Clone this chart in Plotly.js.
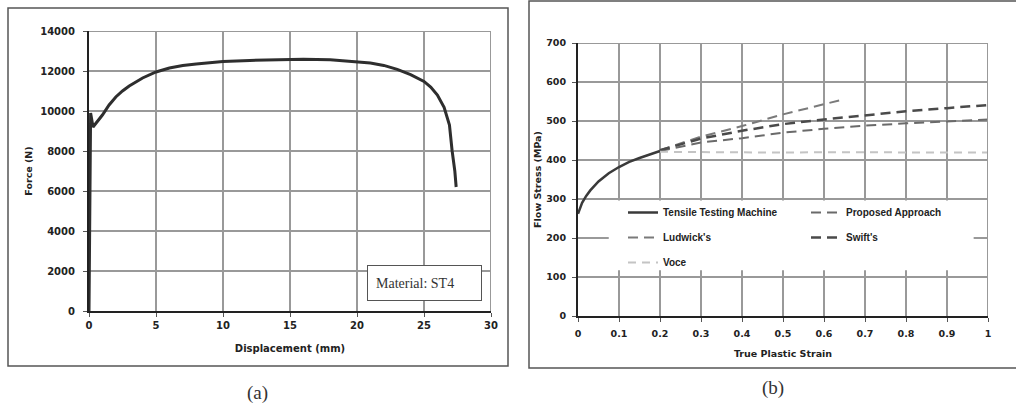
<!DOCTYPE html>
<html>
<head>
<meta charset="utf-8">
<script src="https://cdn.plot.ly/plotly-3.0.1.min.js"></script>
<style>html,body{margin:0;padding:0;background:#fff;}#chart{width:1016px;height:409px;}</style>
</head>
<body>
<div id="chart"></div>
<script>
// ---- Panel (a): force-displacement ----
const dispMm = [0, 0.1, 0.12, 0.3, 0.6, 1, 1.5, 2, 2.5, 3, 4, 5, 6, 7, 8, 9, 10, 12, 14, 16, 18, 20, 21, 22, 23, 24, 25, 25.5, 26, 26.5, 26.9, 27.1, 27.3, 27.4];
const forceN = [0, 9900, 9900, 9200, 9450, 9800, 10300, 10700, 11000, 11250, 11650, 11950, 12150, 12270, 12350, 12420, 12470, 12530, 12570, 12590, 12560, 12470, 12400, 12280, 12080, 11820, 11480, 11200, 10800, 10180, 9300, 8000, 7000, 6200];

// ---- Panel (b): flow stress vs true plastic strain ----
const tensileStrain = [0, 0.005, 0.01, 0.02, 0.03, 0.05, 0.075, 0.1, 0.125, 0.15, 0.175, 0.2];
const tensileStress = [262, 278, 290, 308, 322, 345, 366, 382, 395, 405, 414, 423];
const modelStrain = [0.2, 0.3, 0.4, 0.5, 0.6, 0.7, 0.8, 0.9, 1.0];
const proposedStress = [423, 445, 456, 470, 480, 488, 494, 499, 504];
const ludwickStrain = [0.2, 0.3, 0.4, 0.5, 0.6, 0.65];
const ludwickStress = [425, 460, 487, 517, 543, 556];
const swiftStress = [425, 455, 475, 492, 504, 515, 525, 533, 541];
const voceStress = [421, 420, 419, 419, 420, 420, 419, 419, 419];

const legendNames = ["Tensile Testing Machine", "Proposed Approach", "Ludwick's", "Swift's", "Voce"];

const W = 1016, H = 409;
const px = v => v / W;
const py = v => 1 - v / H;

const tickFont = {family: "DejaVu Sans, Arial, sans-serif", size: 10, color: "#222", weight: "bold"};
const tickFontB = {family: "DejaVu Sans, Arial, sans-serif", size: 9.5, color: "#222", weight: "bold"};
const gridCol = "#999999";
const legFont = {family: "Liberation Sans Narrow, Liberation Sans, Arial, sans-serif", size: 10, color: "#222", weight: "bold"};

const traces = [
  {x: dispMm, y: forceN, xaxis: "x", yaxis: "y", mode: "lines", showlegend: false,
   line: {color: "#2e2e2e", width: 3}},
  {x: tensileStrain, y: tensileStress, xaxis: "x2", yaxis: "y2", mode: "lines", name: legendNames[0],
   legend: "legend", legendgroup: "g1", line: {color: "#3a3a3a", width: 2.5}},
  {x: modelStrain, y: proposedStress, xaxis: "x2", yaxis: "y2", mode: "lines", name: legendNames[1],
   legend: "legend2", legendgroup: "g2", line: {color: "#6a6a6a", width: 2, dash: "10px,6px"}},
  {x: ludwickStrain, y: ludwickStress, xaxis: "x2", yaxis: "y2", mode: "lines", name: legendNames[2],
   legend: "legend", legendgroup: "g3", line: {color: "#7a7a7a", width: 2, dash: "10px,6px"}},
  {x: modelStrain, y: swiftStress, xaxis: "x2", yaxis: "y2", mode: "lines", name: legendNames[3],
   legend: "legend2", legendgroup: "g4", line: {color: "#4a4a4a", width: 2.5, dash: "10px,6px"}},
  {x: modelStrain, y: voceStress, xaxis: "x2", yaxis: "y2", mode: "lines", name: legendNames[4],
   legend: "legend", legendgroup: "g5", line: {color: "#c4c4c4", width: 2, dash: "8px,6px"}}
];

const axBase = {
  showgrid: true, gridcolor: gridCol, gridwidth: 2, zeroline: false,
  showline: true, linecolor: "#222", linewidth: 2,
  ticks: "outside", ticklen: 4, tickcolor: "#555", tickwidth: 1,
  fixedrange: true
};

const layout = {
  width: W, height: H,
  margin: {l: 0, r: 0, t: 0, b: 0},
  paper_bgcolor: "#fff", plot_bgcolor: "#fff",
  showlegend: true,
  xaxis: Object.assign({}, axBase, {
    domain: [px(89), px(491)], range: [0, 30], dtick: 5, anchor: "y",
    tickfont: tickFont,
    title: {text: "Displacement (mm)", font: {family: "DejaVu Sans, Arial, sans-serif", size: 10, color: "#222", weight: "bold"}}
  }),
  yaxis: Object.assign({}, axBase, {
    domain: [py(311), py(31)], range: [0, 14000], dtick: 2000, anchor: "x", tickformat: "d",
    tickfont: tickFont, ticklabelstandoff: 6,
    title: {text: "Force (N)", font: {family: "DejaVu Sans, Arial, sans-serif", size: 9.5, color: "#222", weight: "bold"}, standoff: 6}
  }),
  xaxis2: Object.assign({}, axBase, {
    domain: [px(578), px(988)], range: [0, 1], dtick: 0.1, anchor: "y2",
    tickfont: tickFontB, ticklabelstandoff: 4,
    title: {text: "True Plastic Strain", font: {family: "DejaVu Sans, Arial, sans-serif", size: 9.5, color: "#222", weight: "bold"}, standoff: 12}
  }),
  yaxis2: Object.assign({}, axBase, {
    domain: [py(316), py(43)], range: [0, 700], dtick: 100, anchor: "x2",
    tickfont: tickFontB, ticklabelstandoff: 4,
    title: {text: "Flow Stress (MPa)", font: {family: "DejaVu Sans, Arial, sans-serif", size: 9.5, color: "#222", weight: "bold"}, standoff: 3}
  }),
  legend: {
    orientation: "v", x: px(623), xanchor: "left", y: py(198), yanchor: "top",
    bgcolor: "rgba(0,0,0,0)", borderwidth: 0, tracegroupgap: 6, itemwidth: 30,
    font: legFont
  },
  legend2: {
    orientation: "v", x: px(806), xanchor: "left", y: py(198), yanchor: "top",
    bgcolor: "rgba(0,0,0,0)", borderwidth: 0, tracegroupgap: 6, itemwidth: 30,
    font: legFont
  },
  shapes: [
    {type: "rect", xref: "paper", yref: "paper", x0: px(8), x1: px(508), y0: py(366), y1: py(8),
     line: {color: "#555", width: 1.5}, fillcolor: "rgba(0,0,0,0)"},
    {type: "rect", xref: "paper", yref: "paper", x0: px(529), x1: px(1030), y0: py(368), y1: py(1),
     line: {color: "#555", width: 1.5}, fillcolor: "rgba(0,0,0,0)"},
    {type: "rect", xref: "x2", yref: "y2", x0: 0.075, x1: 0.965, y0: 117, y1: 296, layer: "between",
     line: {width: 0}, fillcolor: "#fff"},
    {type: "line", xref: "x", yref: "y", x0: 30, x1: 30, y0: 0, y1: 14000, line: {color: gridCol, width: 2}},
    {type: "line", xref: "x", yref: "y", x0: 0, x1: 30, y0: 14000, y1: 14000, line: {color: gridCol, width: 2}},
    {type: "line", xref: "x2", yref: "y2", x0: 1, x1: 1, y0: 0, y1: 700, line: {color: gridCol, width: 2}},
    {type: "line", xref: "x2", yref: "y2", x0: 0, x1: 1, y0: 700, y1: 700, line: {color: gridCol, width: 2}}
  ],
  annotations: [
    {xref: "paper", yref: "paper", x: px(424.5), y: py(282.5), xanchor: "center", yanchor: "middle",
     text: "Material: ST4", showarrow: false, align: "left",
     font: {family: "Liberation Serif, Times New Roman, serif", size: 14, color: "#333"},
     bgcolor: "#fff", bordercolor: "#555", borderwidth: 1, borderpad: 8, width: 97, height: 18},
    {xref: "paper", yref: "paper", x: px(257), y: py(393), xanchor: "center", yanchor: "middle",
     text: "(a)", showarrow: false,
     font: {family: "Liberation Serif, Times New Roman, serif", size: 19, color: "#333"}},
    {xref: "paper", yref: "paper", x: px(773), y: py(388), xanchor: "center", yanchor: "middle",
     text: "(b)", showarrow: false,
     font: {family: "Liberation Serif, Times New Roman, serif", size: 19, color: "#333"}}
  ]
};

Plotly.newPlot("chart", traces, layout, {displayModeBar: false, staticPlot: true});
</script>
</body>
</html>
